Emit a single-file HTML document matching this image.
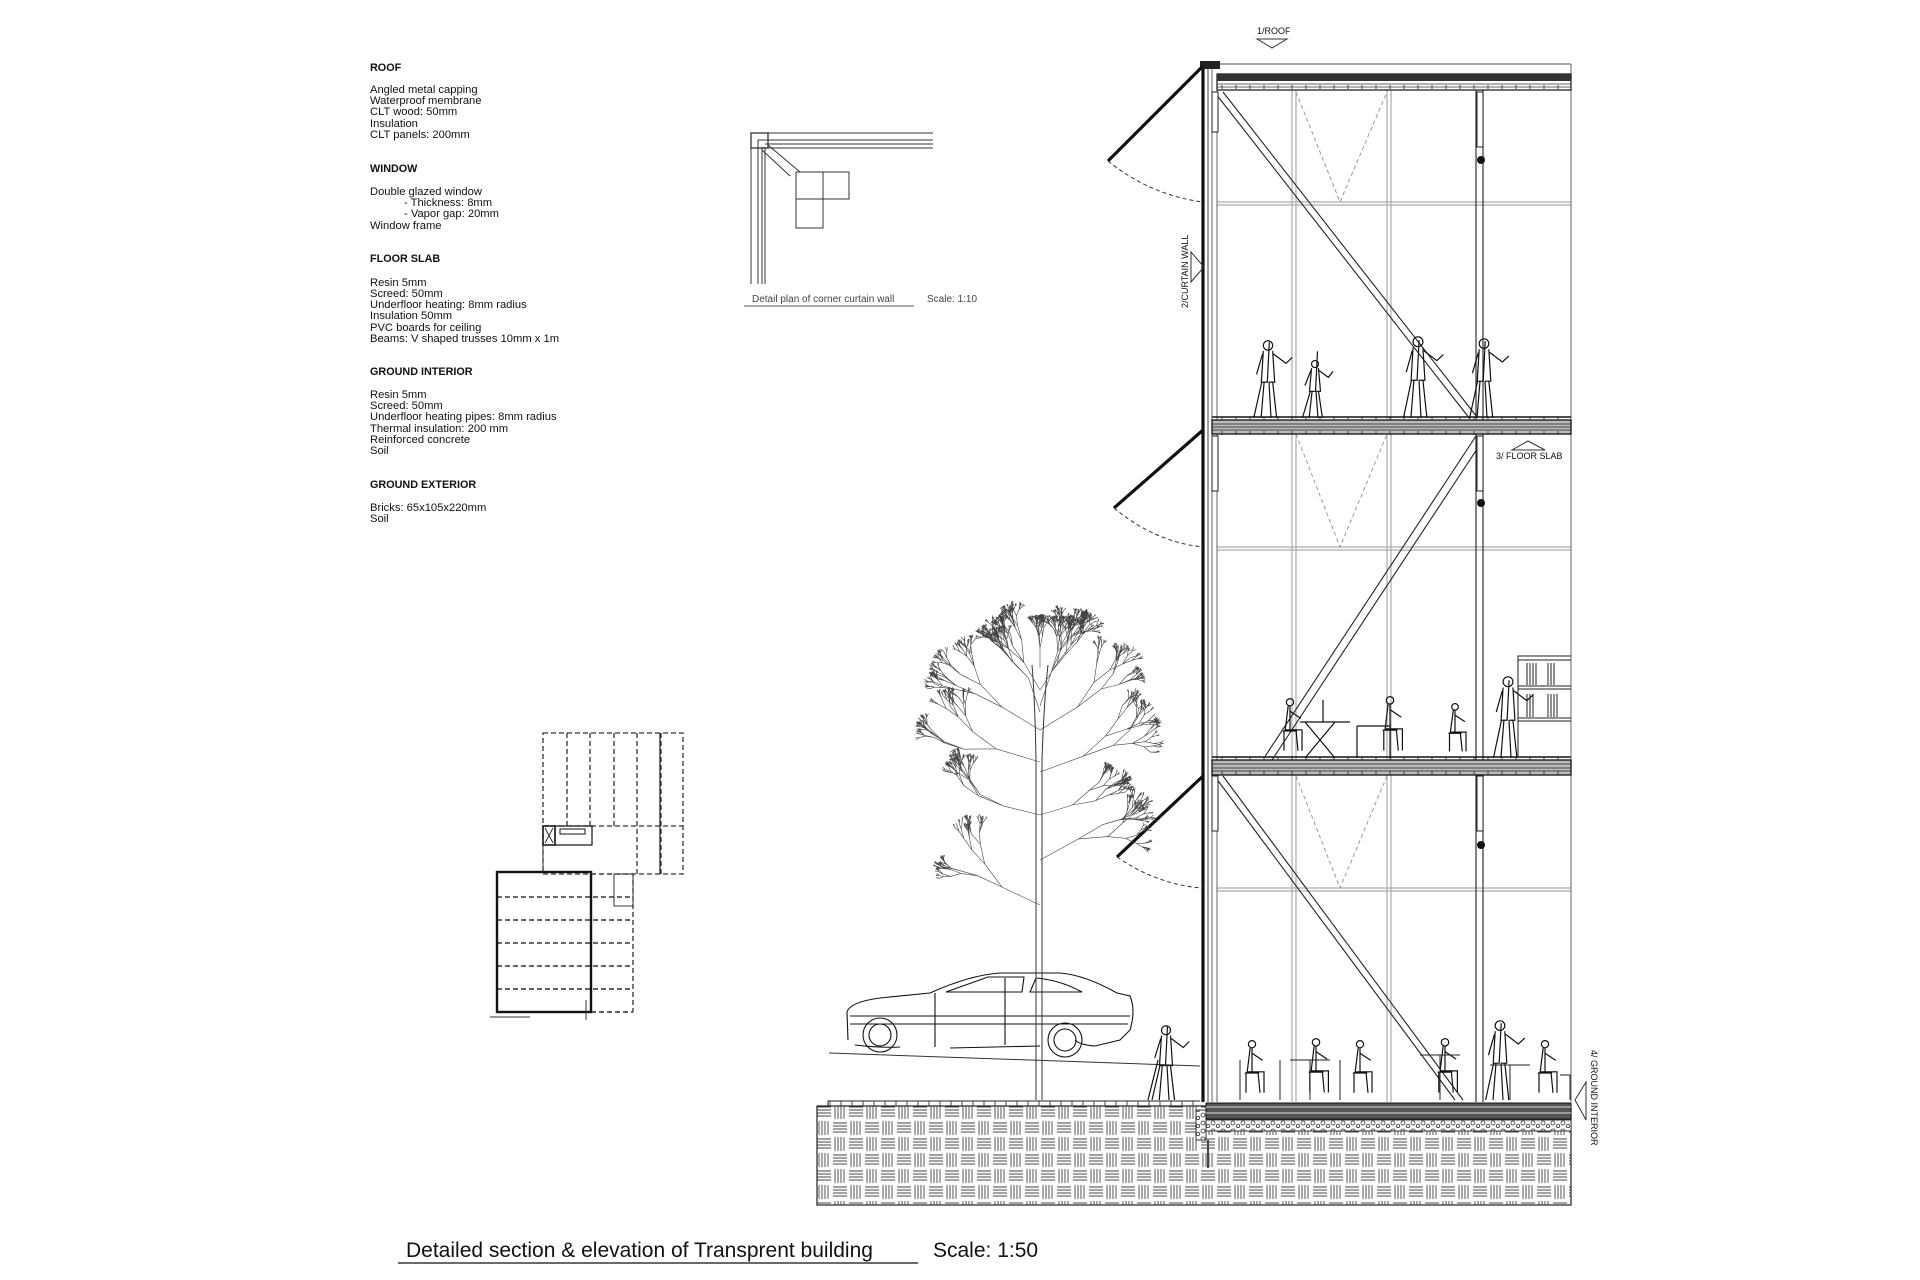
<!DOCTYPE html>
<html><head><meta charset="utf-8"><style>
html,body{margin:0;padding:0;background:#fff;}
svg{display:block;}
text{font-family:"Liberation Sans",Arial,sans-serif;fill:#111;}
.t{font-size:11.2px;}
.h{font-size:10.8px;font-weight:bold;}
</style></head><body>
<svg id="s" width="1920" height="1280" viewBox="0 0 1920 1280" xmlns="http://www.w3.org/2000/svg">
<defs>
<pattern id="brick" width="32" height="32" patternUnits="userSpaceOnUse">
<rect width="32" height="32" fill="#fff"/>
<g stroke="#444" stroke-width="0.9">
<path d="M1 3H15M1 6H15M1 9H15M1 12H15M17 19H31M17 22H31M17 25H31M17 28H31"/>
<path d="M19 1V15M22 1V15M25 1V15M28 1V15M3 17V31M6 17V31M9 17V31M12 17V31"/>
</g>
</pattern>
<pattern id="grav" width="10" height="8" patternUnits="userSpaceOnUse">
<rect width="10" height="8" fill="#fff"/><circle cx="3" cy="3" r="2" fill="none" stroke="#333" stroke-width="0.8"/><circle cx="8" cy="6" r="1.6" fill="none" stroke="#333" stroke-width="0.8"/>
</pattern>
</defs>

<g>
<text class="h" x="370" y="71">ROOF</text>
<text class="t" x="370" y="93">Angled metal capping</text>
<text class="t" x="370" y="104">Waterproof membrane</text>
<text class="t" x="370" y="115">CLT wood: 50mm</text>
<text class="t" x="370" y="127">Insulation</text>
<text class="t" x="370" y="138">CLT panels: 200mm</text>
<text class="h" x="370" y="172">WINDOW</text>
<text class="t" x="370" y="195">Double glazed window</text>
<text class="t" x="404" y="206">- Thickness: 8mm</text>
<text class="t" x="404" y="217">- Vapor gap: 20mm</text>
<text class="t" x="370" y="229">Window frame</text>
<text class="h" x="370" y="262">FLOOR SLAB</text>
<text class="t" x="370" y="286">Resin 5mm</text>
<text class="t" x="370" y="297">Screed: 50mm</text>
<text class="t" x="370" y="308">Underfloor heating: 8mm radius</text>
<text class="t" x="370" y="319">Insulation 50mm</text>
<text class="t" x="370" y="331">PVC boards for ceiling</text>
<text class="t" x="370" y="342">Beams: V shaped trusses 10mm x 1m</text>
<text class="h" x="370" y="375">GROUND INTERIOR</text>
<text class="t" x="370" y="398">Resin 5mm</text>
<text class="t" x="370" y="409">Screed: 50mm</text>
<text class="t" x="370" y="420">Underfloor heating pipes: 8mm radius</text>
<text class="t" x="370" y="432">Thermal insulation: 200 mm</text>
<text class="t" x="370" y="443">Reinforced concrete</text>
<text class="t" x="370" y="454">Soil</text>
<text class="h" x="370" y="488">GROUND EXTERIOR</text>
<text class="t" x="370" y="511">Bricks: 65x105x220mm</text>
<text class="t" x="370" y="522">Soil</text>
</g>

<g fill="none" stroke="#333" stroke-width="1">
<path d="M751 133H933M751 133V284M758 140H933M765 144H933M768 148H933"/>
<path d="M758 140V284M762 147V284M765 147V284" />
<rect x="751" y="133" width="17" height="15" stroke-width="1.3"/>
<path d="M762 150L790 176M768 145L800 172"/>
<rect x="796" y="172" width="27" height="27"/><rect x="823" y="172" width="26" height="27"/><rect x="796" y="199" width="27" height="29"/>
</g>
<text x="752" y="302" style="font-size:10px;fill:#444">Detail plan of corner curtain wall</text>
<line x1="744" y1="306" x2="914" y2="306" stroke="#555" stroke-width="1"/>
<text x="927" y="302" style="font-size:10px;fill:#444">Scale: 1:10</text>

<g fill="none" stroke="#333" stroke-width="1.3" stroke-dasharray="5,3">
<rect x="543" y="733" width="140" height="141"/>
<path d="M567 733V826M590 733V826M614 733V826M637 733V874M661 733V874M543 826H683"/>
<path d="M591 874H633V1012"/>
<path d="M497 897H633M497 920H633M497 943H633M497 966H633M497 989H633M591 1012H633" stroke-width="1.6"/>
</g>
<line x1="660" y1="733" x2="660" y2="874" stroke="#223" stroke-width="1.3"/>
<rect x="497" y="872" width="94" height="140" fill="none" stroke="#111" stroke-width="2.4"/>
<rect x="543" y="826" width="12" height="19" fill="none" stroke="#111" stroke-width="1.5"/>
<path d="M545 828L553 843M553 828L545 843" stroke="#111" stroke-width="0.8"/>
<rect x="555" y="826" width="37" height="19" fill="none" stroke="#111" stroke-width="1.2"/>
<path d="M560 829h25v5h-25z" fill="none" stroke="#111"/>
<line x1="543" y1="845" x2="543" y2="872" stroke="#333"/>
<rect x="614" y="874" width="19" height="32" fill="none" stroke="#333"/>
<path d="M490 1017H530M586 1000V1020" stroke="#333"/>

<rect x="817" y="1106" width="754" height="99" fill="url(#brick)" stroke="#222" stroke-width="1.2"/>
<path d="M828 1106V1101H1200" fill="none" stroke="#222" stroke-width="1"/>
<rect x="1196" y="1110" width="10" height="30" fill="url(#grav)" stroke="#333"/>
<rect x="1206" y="1120" width="365" height="11" fill="url(#grav)" stroke="#333"/>
<rect x="1206" y="1103" width="365" height="16" fill="#555" stroke="#111"/>
<path d="M1206 1107H1571M1206 1113H1571" stroke="#ddd" stroke-width="1"/>
<line x1="1208" y1="1140" x2="1208" y2="1168" stroke="#444" stroke-width="2"/>

<line x1="829" y1="1053" x2="1200" y2="1066" stroke="#333" stroke-width="1"/>

<g stroke="#aaa" stroke-width="1.2" fill="none">
<path d="M1292 90V1102M1296 90V1102M1387 90V1102M1391 90V1102"/>
<path d="M1217 202H1571M1217 205H1571M1217 547H1571M1217 550H1571M1217 888H1571M1217 891H1571"/>
</g>
<g stroke="#666" stroke-width="1" fill="none">
<path d="M1571 64V1102"/>
<path d="M1212 64V1102M1217 90V1102"/>
<path d="M1476 90V1102M1483 90V1102" stroke="#333" stroke-width="1.2"/>
</g>
<g stroke="#999" stroke-width="1" stroke-dasharray="4,3" fill="none">
<path d="M1296 92L1340 202L1387 92M1296 434L1340 547L1387 434M1296 776L1340 888L1387 776"/>
</g>
<path d="M1203 64V1102" stroke="#111" stroke-width="3.2"/>
<path d="M1208 64V1102" stroke="#444" stroke-width="1"/>
<rect x="1200" y="61" width="20" height="8" fill="#222"/>
<line x1="1220" y1="64" x2="1571" y2="64" stroke="#555" stroke-width="1"/>

<g>
<rect x="1217" y="74" width="354" height="16" fill="#fff" stroke="#111" stroke-width="1.2"/>
<rect x="1217" y="74" width="354" height="7" fill="#333"/>
<path d="M1217 84H1571M1217 87H1571" stroke="#333" stroke-width="0.8"/>
</g>
<g>
<rect x="1212" y="420" width="359" height="14" fill="#bbb" stroke="#111" stroke-width="1.3"/>
<path d="M1212 424H1571M1212 427H1571M1212 430H1571" stroke="#222" stroke-width="0.8"/>
<rect x="1212" y="760" width="359" height="15" fill="#bbb" stroke="#111" stroke-width="1.3"/>
<path d="M1212 764H1571M1212 768H1571M1212 771H1571" stroke="#222" stroke-width="0.8"/>
</g>
<g id="ticks" stroke="#333" stroke-width="0.9"></g>

<g stroke="#222" stroke-width="1.1" fill="none">
<path d="M1216 94L1470 419M1223 92L1477 417"/>
<path d="M1476 436L1264 758M1483 440L1272 760"/>
<path d="M1216 778L1455 1100M1223 776L1463 1100"/>
</g>
<g fill="#fff" stroke="#222" stroke-width="1">
<rect x="1212" y="92" width="6" height="40"/><rect x="1212" y="436" width="6" height="55"/><rect x="1212" y="776" width="6" height="55"/>
<rect x="1477" y="92" width="6" height="55"/><rect x="1477" y="436" width="6" height="55"/><rect x="1477" y="776" width="6" height="55"/>
</g>
<g fill="#111"><circle cx="1481" cy="160" r="4"/><circle cx="1481" cy="503" r="4"/><circle cx="1481" cy="845" r="4"/></g>

<g stroke="#111" stroke-width="3.2" fill="none">
<path d="M1203 66L1108 161M1203 430L1114 508M1203 776L1117 857"/>
</g>
<g stroke="#333" stroke-width="1" stroke-dasharray="4,3" fill="none">
<path d="M1108 161Q1150 195 1203 202M1114 508Q1155 542 1203 547M1117 857Q1158 885 1203 888"/>
</g>

<text x="1257" y="34" style="font-size:9px">1/ROOF</text>
<path d="M1257 39H1287L1272 48Z" fill="none" stroke="#333"/>
<text transform="translate(1188,308) rotate(-90)" style="font-size:9px">2/CURTAIN WALL</text>
<path d="M1191 252V282L1204 267Z" fill="none" stroke="#333"/>
<text x="1496" y="459" style="font-size:9px">3/ FLOOR SLAB</text>
<path d="M1512 450H1545L1528 441Z" fill="none" stroke="#333"/>
<text transform="translate(1591,1050) rotate(90)" style="font-size:9px">4/ GROUND INTERIOR</text>
<path d="M1586 1082V1120L1575 1100Z" fill="none" stroke="#333"/>

<g fill="none" stroke="#222" stroke-width="1">
<path d="M1518 756V656H1571M1518 660H1571M1518 686H1571M1518 689H1571M1518 718H1571M1518 721H1571"/>
<path d="M1527 663V685M1530 663V685M1533 663V685M1536 663V685M1548 663V685M1551 663V685M1554 663V685M1527 694V717M1530 694V717M1533 694V717M1548 694V717M1551 694V717M1554 694V717M1557 694V717"/>
</g>
<g stroke="#111" stroke-width="1.2" fill="none">
<path d="M1300 722H1350M1305 722L1335 758M1335 722L1305 758M1323 722V700"/>
<path d="M1357 726H1390V758M1357 726V758"/>
</g>

<g stroke="#111" stroke-width="1.1" fill="none">
<path d="M848 1040L847 1012Q850 1002 880 998L930 993Q970 975 1000 973L1060 973Q1085 975 1117 993L1130 996Q1136 1010 1130 1030L1120 1040L1095 1046Q1080 1045 1075 1040M1040 1046L950 1048M900 1047Q880 1048 855 1045"/>
<path d="M946 992L988 977H1024L1022 992ZM1030 992L1036 978Q1060 980 1082 992Z"/>
<path d="M850 1016H1130M850 1024H1128M935 993V1047M1005 978V1045"/>
<circle cx="880" cy="1035" r="17"/><circle cx="880" cy="1035" r="11"/>
<circle cx="1065" cy="1040" r="17"/><circle cx="1065" cy="1040" r="11"/>
</g>
<path d="M1036 1100V760Q1035 700 1032 665M1042 1100V760Q1044 700 1048 665" stroke="#333" stroke-width="1" fill="none"/>
<g id="tree" stroke="#444" stroke-width="0.6" fill="none"></g>
<g id="ppl" stroke="#111" stroke-width="1.2" fill="none"></g>

<text x="406" y="1257" style="font-size:21px">Detailed section &amp; elevation of Transprent building</text>
<line x1="398" y1="1263" x2="918" y2="1263" stroke="#111" stroke-width="1.2"/>
<text x="933" y="1257" style="font-size:21px">Scale: 1:50</text>
</svg>
<script>
(function(){
var NS="http://www.w3.org/2000/svg";
function el(p,t,a){var e=document.createElementNS(NS,t);for(var k in a)e.setAttribute(k,a[k]);p.appendChild(e);return e;}
var tk=document.getElementById('ticks'),d='';
[[75,5],[421,5],[761,5]].forEach(function(r){for(var x=1222;x<1571;x+=14){d+='M'+x+' '+(r[0]+10)+'v4';}});
for(var x=1222;x<1571;x+=14){d+='M'+x+' 417v3M'+x+' 757v3';}
for(var x=830;x<1200;x+=11){d+='M'+x+' 1101v5';}
el(tk,'path',{d:d});
el(tk,'path',{d:'M1212 417H1571M1212 757H1571',stroke:'#111','stroke-width':1.5});
var seed=11;function rnd(){seed=(seed*16807)%2147483647;return seed/2147483647;}
var tg=document.getElementById('tree'),td='';
function br(x,y,a,l,dep){var x2=x+Math.cos(a)*l,y2=y+Math.sin(a)*l;td+='M'+x.toFixed(1)+' '+y.toFixed(1)+'L'+x2.toFixed(1)+' '+y2.toFixed(1);
 if(dep>0){var n=2+(rnd()<0.3?1:0);for(var i=0;i<n;i++){var na=a+(rnd()-0.5)*1.2;na=na*0.92+(-1.57)*0.08;br(x2,y2,na,l*(0.6+rnd()*0.12),dep-1);}}}
var starts=[[1040,668,-1.57,20],[1040,690,-2.1,32],[1040,690,-1.0,32],[1040,730,-2.6,44],[1040,730,-0.55,44],[1040,762,-2.85,46],[1040,772,-0.35,46],[1040,815,-2.9,38],[1040,815,-0.3,34],[1040,860,-0.5,44],[1040,905,-2.7,42],[1040,712,-1.9,36],[1040,706,-1.25,36]];
starts.forEach(function(s){br(s[0],s[1],s[2],s[3],6);});
el(tg,'path',{d:td});
var pg=document.getElementById('ppl');
function person(x,y,h,pose){var s=h/100,hd=y-h;var p='';
 el(pg,'circle',{cx:x,cy:hd+7*s,r:6*s});
 if(pose==='sit'){p='M'+x+' '+(hd+13*s)+'l0 '+(40*s)+'l'+(20*s)+' 0l0 '+(35*s)+'M'+(x-3*s)+' '+(hd+13*s)+'l-3 '+(40*s)+'l'+(18*s)+' 0l2 '+(35*s)+'M'+x+' '+(hd+22*s)+'l'+(18*s)+' '+(12*s)+'M'+(x-10*s)+' '+(hd+55*s)+'v'+(33*s)+'M'+(x-12*s)+' '+(hd+55*s)+'h'+(24*s);}
 else {p='M'+(x-6*s)+' '+(hd+14*s)+'l-2 '+(40*s)+'l6 0l2 -40M'+(x+6*s)+' '+(hd+14*s)+'l2 '+(40*s)+'l-6 0M'+(x-5*s)+' '+(hd+54*s)+'l-3 '+(46*s)+'M'+(x+1)+' '+(hd+54*s)+'l2 '+(46*s)+'M'+(x+6*s)+' '+(hd+54*s)+'l4 '+(46*s)+'M'+(x-8*s)+' '+(hd+54*s)+'l-8 '+(46*s)+'M'+(x+7*s)+' '+(hd+18*s)+'l'+(16*s)+' '+(12*s)+'l'+(8*s)+' -6M'+(x-7*s)+' '+(hd+18*s)+'l-6 '+(26*s);}
 el(pg,'path',{d:p});}
person(1268,418,78,'st');person(1315,418,58,'st');person(1418,418,82,'st');person(1484,418,80,'st');
person(1290,758,60,'sit');person(1390,758,62,'sit');person(1455,758,55,'sit');person(1508,758,82,'st');
person(1252,1100,60,'sit');person(1316,1100,62,'sit');person(1360,1100,60,'sit');person(1445,1100,62,'sit');person(1500,1100,80,'st');person(1545,1100,60,'sit');
person(1166,1100,75,'st');
el(pg,'path',{d:'M1158 1060L1148 1100'});
el(pg,'path',{d:'M1240 1060v40M1280 1060v40M1290 1060h40M1310 1060v40M1340 1060v40M1420 1055h40M1440 1055v45M1490 1065h40M1510 1065v35M1560 1075h10v25',stroke:'#222','stroke-width':1});
})();
</script>
</body></html>
